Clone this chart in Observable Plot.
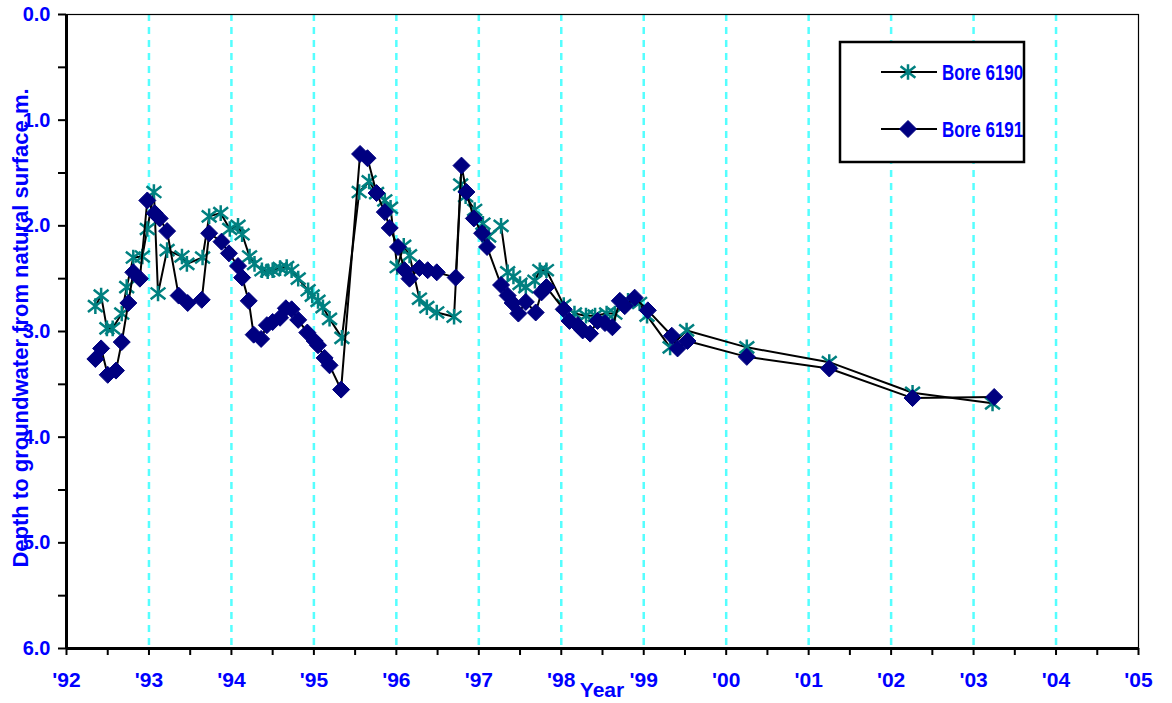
<!DOCTYPE html>
<html>
<head>
<meta charset="utf-8">
<script src="https://cdn.jsdelivr.net/npm/d3@7"></script>
<script src="https://cdn.jsdelivr.net/npm/@observablehq/plot@0.6"></script>
<style>
  body { margin: 0; background: #fff; }
  #chart { width: 1172px; height: 703px; }
</style>
</head>
<body>
<div id="chart"></div>
<script>
// Bore 6190 – sampling time (decimal year) and depth to groundwater (m)
const years6190 = [
  1992.35, 1992.42, 1992.49, 1992.56, 1992.67, 1992.73, 1992.81, 1992.92, 1992.98, 1993.06,
  1993.11, 1993.22, 1993.40, 1993.46, 1993.65, 1993.73, 1993.87, 1993.98, 1994.08, 1994.13,
  1994.22, 1994.28, 1994.37, 1994.44, 1994.50, 1994.59, 1994.67, 1994.73, 1994.81, 1994.93,
  1994.98, 1995.05, 1995.11, 1995.19, 1995.34, 1995.55, 1995.67, 1995.76, 1995.86, 1995.93,
  1996.01, 1996.09, 1996.16, 1996.28, 1996.37, 1996.49, 1996.70, 1996.78, 1996.84, 1996.95,
  1997.05, 1997.12, 1997.27, 1997.35, 1997.42, 1997.50, 1997.57, 1997.68, 1997.74, 1997.82,
  1998.03, 1998.16, 1998.30, 1998.41, 1998.55, 1998.65, 1998.81, 1998.95, 1999.04, 1999.32,
  1999.52, 2000.25, 2001.25, 2002.26, 2003.23
];
const depth6190 = [
  2.76, 2.66, 2.97, 2.97, 2.83, 2.58, 2.30, 2.29, 2.03, 1.68,
  2.64, 2.23, 2.29, 2.36, 2.30, 1.91, 1.88, 2.03, 2.00, 2.08,
  2.29, 2.36, 2.42, 2.43, 2.42, 2.40, 2.39, 2.42, 2.50, 2.61,
  2.66, 2.71, 2.77, 2.88, 3.06, 1.68, 1.58, 1.69, 1.76, 1.83,
  2.39, 2.19, 2.28, 2.69, 2.77, 2.82, 2.86, 1.61, 1.72, 1.85,
  1.98, 2.10, 2.00, 2.44, 2.48, 2.55, 2.58, 2.52, 2.42, 2.42,
  2.75, 2.83, 2.85, 2.85, 2.83, 2.83, 2.71, 2.73, 2.85, 3.15,
  2.99, 3.15, 3.29, 3.58, 3.68
];

// Bore 6191 – sampling time (decimal year) and depth to groundwater (m)
const years6191 = [
  1992.35, 1992.42, 1992.50, 1992.60, 1992.67, 1992.75, 1992.81, 1992.89, 1992.98, 1993.07,
  1993.13, 1993.22, 1993.36, 1993.47, 1993.64, 1993.73, 1993.88, 1993.97, 1994.08, 1994.13,
  1994.21, 1994.27, 1994.36, 1994.43, 1994.50, 1994.59, 1994.66, 1994.73, 1994.81, 1994.92,
  1995.01, 1995.05, 1995.13, 1995.19, 1995.33, 1995.56, 1995.65, 1995.76, 1995.86, 1995.92,
  1996.02, 1996.10, 1996.16, 1996.28, 1996.38, 1996.49, 1996.72, 1996.79, 1996.85, 1996.94,
  1997.04, 1997.10, 1997.27, 1997.35, 1997.41, 1997.48, 1997.57, 1997.69, 1997.76, 1997.82,
  1998.03, 1998.10, 1998.20, 1998.26, 1998.35, 1998.44, 1998.53, 1998.62, 1998.71, 1998.77,
  1998.89, 1999.05, 1999.34, 1999.41, 1999.53, 2000.25, 2001.25, 2002.26, 2003.25
];
const depth6191 = [
  3.26, 3.16, 3.41, 3.37, 3.10, 2.73, 2.44, 2.50, 1.76, 1.88,
  1.93, 2.05, 2.66, 2.73, 2.70, 2.07, 2.15, 2.26, 2.38, 2.49,
  2.71, 3.03, 3.07, 2.94, 2.91, 2.87, 2.78, 2.79, 2.89, 3.01,
  3.09, 3.13, 3.25, 3.32, 3.55, 1.32, 1.36, 1.69, 1.87, 2.02,
  2.20, 2.42, 2.50, 2.40, 2.42, 2.44, 2.49, 1.43, 1.68, 1.93,
  2.07, 2.20, 2.56, 2.66, 2.73, 2.83, 2.72, 2.82, 2.63, 2.58,
  2.79, 2.90, 2.94, 2.99, 3.02, 2.90, 2.92, 2.96, 2.71, 2.76,
  2.68, 2.80, 3.04, 3.16, 3.09, 3.24, 3.35, 3.63, 3.62
];

const seriesNames = ["Bore 6190", "Bore 6191"];
const yearTicks = d3.range(1992, 2006);          // labelled year ticks '92 … '05
const gridYears = d3.range(1993, 2005);          // dashed year gridlines
const halfYearTicks = d3.range(1992, 2005.01, 0.5);
const depthTicks = d3.range(0, 6.01, 0.5);
const depthLabels = d3.range(0, 7);

const bore6190 = years6190.map((year, i) => ({year, depth: depth6190[i]}));
const bore6191 = years6191.map((year, i) => ({year, depth: depth6191[i]}));

// Spreadsheet-style markers: a six-armed star and a filled diamond
const starSymbol = {
  draw(ctx, size) {
    const r = Math.sqrt(size / Math.PI);
    const dx = r * 0.95, dy = r * 0.75;
    ctx.moveTo(0, -r); ctx.lineTo(0, r);
    ctx.moveTo(-dx, -dy); ctx.lineTo(dx, dy);
    ctx.moveTo(-dx, dy); ctx.lineTo(dx, -dy);
  }
};
const diamondSymbol = {
  draw(ctx, size) {
    const r = Math.sqrt(size / Math.PI);
    ctx.moveTo(0, -r); ctx.lineTo(r, 0); ctx.lineTo(0, r); ctx.lineTo(-r, 0); ctx.closePath();
  }
};

const BLUE = "#0000ff";
const TEAL = "#008080";
const NAVY = "#000080";
const FONT = "'Liberation Sans', Arial, sans-serif";
const STAR_R = 7.8;
const DIAMOND_R = 8.5;

const chart = Plot.plot({
  width: 1172,
  height: 703,
  marginLeft: 66,
  marginRight: 34,
  marginTop: 14,
  marginBottom: 55,
  style: {fontFamily: FONT, background: "#fff", overflow: "visible"},
  x: {type: "linear", domain: [1992, 2005]},
  y: {domain: [0, 6], reverse: true},
  marks: [
    Plot.ruleX(gridYears, {stroke: "#55ffff", strokeWidth: 2.5, strokeDasharray: "7,6"}),
    Plot.frame({stroke: "black", strokeWidth: 1.2}),
    // tick marks
    Plot.axisY(depthTicks, {anchor: "left", tickSize: 8, tickFormat: () => "", stroke: "black", strokeWidth: 2, label: null}),
    Plot.axisX(halfYearTicks, {anchor: "bottom", tickSize: 7, tickFormat: () => "", stroke: "black", strokeWidth: 2, label: null}),
    // tick labels
    Plot.axisY(depthLabels, {anchor: "left", tickSize: 0, tickPadding: 16, tickFormat: d => d.toFixed(1),
      fill: BLUE, fontSize: 20, fontWeight: "bold", label: null}),
    Plot.axisX(yearTicks, {anchor: "bottom", tickSize: 0, tickPadding: 24,
      tickFormat: d => "'" + String(d).slice(2), fill: BLUE, fontSize: 21, fontWeight: "bold", label: null}),
    // heavy left and bottom axis lines
    Plot.ruleX([1992], {stroke: "black", strokeWidth: 3}),
    Plot.ruleY([6], {stroke: "black", strokeWidth: 3}),
    // series
    Plot.line(bore6190, {x: "year", y: "depth", stroke: "black", strokeWidth: 2}),
    Plot.dot(bore6190, {x: "year", y: "depth", symbol: starSymbol, r: STAR_R, fill: "none", stroke: TEAL, strokeWidth: 2.5}),
    Plot.line(bore6191, {x: "year", y: "depth", stroke: "black", strokeWidth: 2}),
    Plot.dot(bore6191, {x: "year", y: "depth", symbol: diamondSymbol, r: DIAMOND_R, fill: NAVY, stroke: NAVY, strokeWidth: 1})
  ]
});

document.getElementById("chart").appendChild(chart);

// Axis titles and legend, added to the same SVG
const svg = d3.select(chart);
const textStyle = sel => sel
  .attr("fill", BLUE).attr("font-family", FONT).attr("font-weight", "bold");

svg.append("text").call(textStyle)
  .attr("font-size", 22)
  .attr("text-anchor", "middle")
  .attr("dominant-baseline", "central")
  .attr("transform", "translate(20,328) rotate(-90)")
  .text("Depth to groundwater from natural surface m.");

svg.append("text").call(textStyle)
  .attr("font-size", 21)
  .attr("text-anchor", "middle")
  .attr("x", 602).attr("y", 697)
  .text("Year");

const legend = svg.append("g").attr("transform", "translate(840,42)");
legend.append("rect")
  .attr("width", 184).attr("height", 120)
  .attr("fill", "white").attr("stroke", "black").attr("stroke-width", 2.5);
const legendSymbols = [
  {path: d3.symbol(starSymbol, Math.PI * STAR_R * STAR_R)(), fill: "none", stroke: TEAL, sw: 2.5},
  {path: d3.symbol(diamondSymbol, Math.PI * DIAMOND_R * DIAMOND_R)(), fill: NAVY, stroke: NAVY, sw: 1}
];
seriesNames.forEach((name, i) => {
  const g = legend.append("g").attr("transform", `translate(0,${30 + i * 57})`);
  g.append("line").attr("x1", 41).attr("x2", 97).attr("stroke", "black").attr("stroke-width", 2);
  g.append("path").attr("transform", "translate(68,0)")
    .attr("d", legendSymbols[i].path)
    .attr("fill", legendSymbols[i].fill)
    .attr("stroke", legendSymbols[i].stroke)
    .attr("stroke-width", legendSymbols[i].sw);
  g.append("text").call(textStyle)
    .attr("font-size", 17)
    .attr("text-anchor", "start")
    .attr("transform", "translate(102,0) scale(1,1.25)")
    .attr("dy", "0.36em")
    .text(name);
});
</script>
</body>
</html>
